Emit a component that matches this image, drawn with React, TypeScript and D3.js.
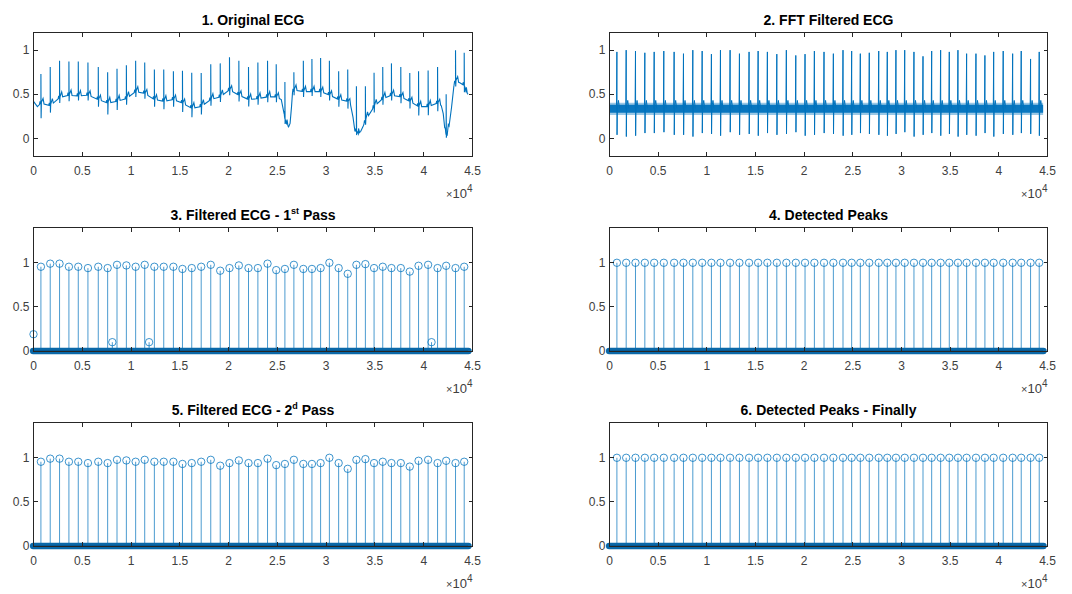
import React, { useEffect, useRef } from 'react';
import * as d3 from 'd3';

// ---------- data ----------
const sampleCount = 44550;
const xTickValues = [0, 5000, 10000, 15000, 20000, 25000, 30000, 35000, 40000, 45000];
const xTickLabels = ['0', '0.5', '1', '1.5', '2', '2.5', '3', '3.5', '4', '4.5'];
const yTickValues = [0, 0.5, 1];
const yTickLabels = ['0', '0.5', '1'];

// R-peak sample positions (shared by all panels)
const beatPos = [760, 1714, 2670, 3630, 4590, 5580, 6640, 7600, 8560, 9520, 10470, 11400, 12390, 13350, 14340,
  15270, 16220, 17190, 18170, 19140, 20090, 21050, 22040, 23000, 23990, 24880, 25770, 26690, 27660, 28540,
  29430, 30330, 31280, 32210, 33100, 34020, 34910, 35800, 36690, 37650, 38570, 39470, 40450, 41420, 42300,
  43260, 44150];

// Panel 1: original ECG
const ecgR = [0.73, 0.81, 0.88, 0.87, 0.87, 0.86, 0.81, 0.75, 0.79, 0.83, 0.88, 0.86, 0.78, 0.78, 0.76, 0.765,
  0.745, 0.74, 0.84, 0.85, 0.92, 0.88, 0.81, 0.86, 0.88, 0.84, 0.64, 0.75, 0.88, 0.90, 0.91, 0.88, 0.76, 0.78,
  0.59, 0.59, 0.745, 0.81, 0.85, 0.81, 0.74, 0.76, 0.77, 0.81, 0.50, 1.0, 0.97];
const ecgBaseline = [0.40, 0.37, 0.46, 0.49, 0.48, 0.49, 0.44, 0.40, 0.42, 0.45, 0.53, 0.51, 0.44, 0.42, 0.44,
  0.40, 0.34, 0.36, 0.44, 0.47, 0.55, 0.49, 0.44, 0.45, 0.47, 0.47, 0.22, 0.55, 0.53, 0.53, 0.53, 0.49, 0.44,
  0.42, 0.08, 0.20, 0.36, 0.45, 0.49, 0.47, 0.42, 0.36, 0.36, 0.40, 0.04, 0.65, 0.60];
const ecgSDepth = [0.17, 0.08, 0.06, 0.07, 0.05, 0.06, 0.08, 0.13, 0.10, 0.07, 0.06, 0.06, 0.08, 0.09, 0.08,
  0.10, 0.10, 0.09, 0.07, 0.06, 0.06, 0.07, 0.08, 0.07, 0.06, 0.06, 0.05, 0.06, 0.06, 0.05, 0.06, 0.06, 0.08,
  0.08, 0.04, 0.05, 0.07, 0.07, 0.06, 0.07, 0.08, 0.10, 0.10, 0.09, 0.03, 0.06, 0.07];
const ecgExtraKnots: [number, number][] = [
  [0, 0.42], [400, 0.36],
  [25400, 0.44], [25650, 0.30], [25950, 0.16], [26150, 0.13], [26300, 0.17], [26450, 0.36], [26550, 0.52],
  [32500, 0.38], [32750, 0.24], [32950, 0.08], [33300, 0.05], [33550, 0.08], [33800, 0.14],
  [41800, 0.37], [42000, 0.28], [42150, 0.12], [42400, 0.03], [42600, 0.14], [42850, 0.35], [43100, 0.60],
  [43700, 0.63], [44350, 0.52], [44550, 0.50],
];

// Panel 2: FFT filtered ECG
const fftR = [0.98, 1.0, 0.99, 0.97, 0.98, 0.99, 0.98, 0.96, 1.0, 0.99, 0.955, 1.0, 1.0, 0.96, 0.98, 0.99, 0.98,
  0.955, 1.0, 0.94, 0.955, 0.99, 0.98, 0.96, 1.0, 0.99, 0.96, 0.97, 0.99, 0.98, 1.0, 1.0, 0.98, 0.93, 0.99, 1.0,
  0.98, 1.0, 0.96, 0.96, 0.94, 0.98, 0.99, 0.96, 0.99, 0.90, 0.98];
const fftS = [0.04, 0.02, 0.03, 0.06, 0.06, 0.07, 0.04, 0.04, 0.02, 0.06, 0.05, 0.03, 0.07, 0.04, 0.05, 0.03,
  0.06, 0.04, 0.05, 0.07, 0.03, 0.04, 0.06, 0.05, 0.03, 0.04, 0.06, 0.05, 0.04, 0.03, 0.05, 0.07, 0.02, 0.04,
  0.06, 0.03, 0.05, 0.02, 0.04, 0.03, 0.06, 0.02, 0.05, 0.04, 0.06, 0.05, 0.03];
const fftBandCore = [0.29, 0.38];
const fftBandOuter = [0.265, 0.405];
const fftLevel = 0.34;

// Panels 3 & 5: filtered peaks
const passPeaks = [0.955, 0.99, 0.99, 0.955, 0.955, 0.94, 0.955, 0.94, 0.977, 0.97, 0.955, 0.977, 0.955, 0.955,
  0.955, 0.93, 0.94, 0.955, 0.977, 0.91, 0.94, 0.97, 0.94, 0.94, 0.99, 0.917, 0.93, 0.977, 0.93, 0.93, 0.94, 1.0,
  0.94, 0.875, 0.977, 0.985, 0.94, 0.955, 0.94, 0.94, 0.90, 0.966, 0.977, 0.94, 0.966, 0.94, 0.955];
const pass1ExtraPos = [0, 8080, 11850, 40800];
const pass1ExtraVal = [0.19, 0.1, 0.1, 0.1];
// Panels 4 & 6: detected peaks
const detectedVal = beatPos.map(() => 1);

// ---------- layout ----------
const W = 1072;
const H = 594;
const COLOR = '#0072BD';
const colX: [number, number][] = [[33.5, 472.5], [609.5, 1047.5]];
const rowTop = [32.5, 227.5, 422.5];
const axH = 123.5;
const FONT = '"Liberation Sans", Arial, Helvetica, sans-serif';

type Panel = {
  col: number; row: number; title: [string, boolean][]; yDomain: [number, number]; kind: string;
  pos?: number[]; vals?: number[];
};

const panels: Panel[] = [
  { col: 0, row: 0, title: [['1. Original ECG', false]], yDomain: [-0.2, 1.2], kind: 'ecg' },
  { col: 1, row: 0, title: [['2. FFT Filtered ECG', false]], yDomain: [-0.2, 1.2], kind: 'fft' },
  { col: 0, row: 1, title: [['3. Filtered ECG - 1', false], ['st', true], [' Pass', false]], yDomain: [0, 1.4], kind: 'stem',
    pos: [...pass1ExtraPos, ...beatPos], vals: [...pass1ExtraVal, ...passPeaks] },
  { col: 1, row: 1, title: [['4. Detected Peaks', false]], yDomain: [0, 1.4], kind: 'stem', pos: beatPos, vals: detectedVal },
  { col: 0, row: 2, title: [['5. Filtered ECG - 2', false], ['d', true], [' Pass', false]], yDomain: [0, 1.4], kind: 'stem',
    pos: beatPos, vals: passPeaks },
  { col: 1, row: 2, title: [['6. Detected Peaks - Finally', false]], yDomain: [0, 1.4], kind: 'stem', pos: beatPos, vals: detectedVal },
];

function drawPanel(root: d3.Selection<SVGGElement, unknown, null, undefined>, p: Panel) {
  const [L, R] = colX[p.col];
  const T = rowTop[p.row];
  const B = T + axH;
  const x = d3.scaleLinear().domain([0, 45000]).range([L, R]);
  const y = d3.scaleLinear().domain(p.yDomain).range([B, T]);
  const g = root.append('g');

  // data
  if (p.kind === 'ecg') {
    const knots: [number, number][] = [...beatPos.map((b, i) => [b, ecgBaseline[i]] as [number, number]), ...ecgExtraKnots]
      .sort((a, b) => a[0] - b[0]);
    const base = d3.scaleLinear().domain(knots.map(k => k[0])).range(knots.map(k => k[1])).clamp(true);
    const pts: [number, number][] = [...knots];
    beatPos.forEach((b, i) => {
      const tpl: [number, number][] = [[-150, 0], [-90, 0.03], [-40, 0], [50, 0.01], [220, 0.06], [320, 0]];
      tpl.forEach(([dx, dy]) => pts.push([b + dx, base(b + dx) + dy]));
      pts.push([b, ecgR[i]]);
      pts.push([b + 20, base(b + 20) - ecgSDepth[i]]);
    });
    pts.sort((a, b) => a[0] - b[0]);
    const line = d3.line<[number, number]>().x(d => x(d[0])).y(d => y(d[1]));
    g.append('path').attr('d', line(pts.filter(d => d[0] >= 0 && d[0] <= sampleCount)))
      .attr('fill', 'none').attr('stroke', COLOR).attr('stroke-width', 1.1);
  } else if (p.kind === 'fft') {
    const ext = [0, sampleCount];
    const area = d3.area<number>().x(d => x(d));
    g.append('path').attr('d', area.y0(y(fftBandOuter[0])).y1(y(fftBandOuter[1]))(ext))
      .attr('fill', COLOR).attr('opacity', 0.4);
    g.append('path').attr('d', area.y0(y(fftBandCore[0])).y1(y(fftBandCore[1]))(ext))
      .attr('fill', COLOR).attr('opacity', 0.95);
    const line = d3.line<[number, number]>().x(d => x(d[0])).y(d => y(d[1]));
    beatPos.forEach((b, i) => {
      const pts: [number, number][] = [[b - 40, fftLevel], [b, fftR[i]], [b + 15, fftS[i]], [b + 45, fftLevel],
        [b + 160, 0.43], [b + 260, fftLevel]];
      g.append('path').attr('d', line(pts)).attr('fill', 'none').attr('stroke', COLOR).attr('stroke-width', 1);
    });
  } else {
    const pos = p.pos!;
    const vals = p.vals!;
    g.selectAll('line.stem').data(pos).enter().append('line')
      .attr('x1', d => x(d)).attr('x2', d => x(d))
      .attr('y1', y(0)).attr('y2', (d, i) => y(vals[i]))
      .attr('stroke', COLOR).attr('stroke-width', 1).attr('opacity', 0.7);
    g.selectAll('circle.mk').data(pos).enter().append('circle')
      .attr('cx', d => x(d)).attr('cy', (d, i) => y(vals[i])).attr('r', 3.7)
      .attr('fill', 'none').attr('stroke', COLOR).attr('stroke-width', 0.9).attr('opacity', 0.85);
    // zero-valued samples: one marker per sample forms a solid band
    g.append('rect')
      .attr('x', x(0) - 3.6).attr('y', y(0) - 3.3)
      .attr('width', x(sampleCount) - x(0) + 7.2).attr('height', 6.6)
      .attr('rx', 3.3).attr('fill', '#0a68a8');
    g.append('line').attr('x1', x(0)).attr('x2', x(sampleCount)).attr('y1', y(0)).attr('y2', y(0))
      .attr('stroke', '#07558c').attr('stroke-width', 1.5);
  }

  // axes box
  const ax = root.append('g').attr('shape-rendering', 'crispEdges');
  ax.append('rect').attr('x', L).attr('y', T).attr('width', R - L).attr('height', B - T)
    .attr('fill', 'none').attr('stroke', '#262626').attr('stroke-width', 1);
  xTickValues.forEach((t) => {
    ax.append('line').attr('x1', x(t)).attr('x2', x(t)).attr('y1', B).attr('y2', B - 4)
      .attr('stroke', '#262626');
    ax.append('line').attr('x1', x(t)).attr('x2', x(t)).attr('y1', T).attr('y2', T + 4)
      .attr('stroke', '#262626');
  });
  yTickValues.forEach((t) => {
    ax.append('line').attr('x1', L).attr('x2', L + 4).attr('y1', y(t)).attr('y2', y(t)).attr('stroke', '#262626');
    ax.append('line').attr('x1', R).attr('x2', R - 4).attr('y1', y(t)).attr('y2', y(t)).attr('stroke', '#262626');
  });
  const txt = root.append('g').attr('font-family', FONT).attr('fill', '#404040').attr('font-size', 12);
  xTickValues.forEach((t, i) => {
    txt.append('text').attr('x', x(t)).attr('y', B + 19).attr('text-anchor', 'middle').text(xTickLabels[i]);
  });
  yTickValues.forEach((t, i) => {
    txt.append('text').attr('x', L - 4).attr('y', y(t)).attr('dy', '0.35em').attr('text-anchor', 'end').text(yTickLabels[i]);
  });
  const ex = txt.append('text').attr('x', R).attr('y', B + 42).attr('text-anchor', 'end').attr('font-size', 13);
  ex.append('tspan').attr('font-size', 11).text('\u00d7');
  ex.append('tspan').text('10');
  ex.append('tspan').attr('font-size', 10).attr('dy', -6).text('4');

  // title
  const tt = root.append('text').attr('x', (L + R) / 2).attr('y', T - 7.5).attr('text-anchor', 'middle')
    .attr('font-family', FONT).attr('font-weight', 'bold').attr('font-size', 14).attr('fill', '#000');
  let shifted = false;
  p.title.forEach(([s, sup]) => {
    const ts = tt.append('tspan').text(s);
    if (sup && !shifted) { ts.attr('dy', -6).attr('font-size', 9); shifted = true; }
    else if (!sup && shifted) { ts.attr('dy', 6); shifted = false; }
  });
}

export default function App() {
  const ref = useRef<SVGSVGElement>(null);
  useEffect(() => {
    const svg = d3.select(ref.current);
    svg.selectAll('*').remove();
    const root = svg.append('g');
    panels.forEach(p => drawPanel(root as any, p));
  }, []);
  return (
    <svg ref={ref} width={W} height={H}
      style={{ position: 'absolute', left: 0, top: 0, background: '#fff' }} />
  );
}
